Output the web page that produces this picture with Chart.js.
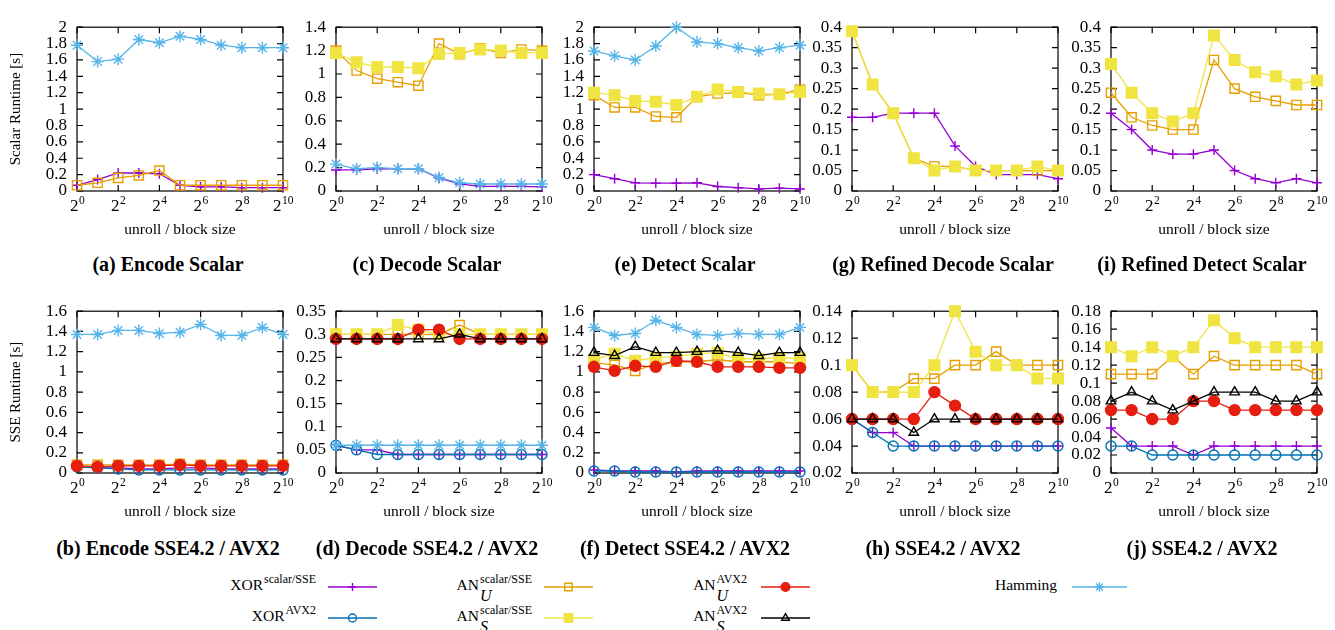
<!DOCTYPE html>
<html>
<head>
<meta charset="utf-8">
<script src="https://cdn.jsdelivr.net/npm/chart.js"></script>
<style>
  html, body { margin: 0; padding: 0; background: #fff; }
  #wrap { position: relative; width: 1335px; height: 630px; overflow: hidden; font-family: "Liberation Serif", "DejaVu Serif", serif; color: #000; }
  #wrap canvas { position: absolute; }
  .cap { position: absolute; font-weight: bold; font-size: 20px; line-height: 22px; white-space: nowrap; transform: translateX(-50%); }
  .lg { position: absolute; font-size: 15.5px; line-height: 40px; white-space: nowrap; }
  .up { font-size: 12px; line-height: 1; vertical-align: 7px; margin-left: 1px; }
  .st { display: inline-block; position: relative; line-height: 1; vertical-align: 7px; margin-left: 1px; }
  .st .sp { display: block; font-size: 12px; }
  .st .sb { position: absolute; left: 0; top: 15px; font-size: 16px; font-style: italic; }
</style>
</head>
<body>
<div id="wrap">
  <div class="lg" style="right:1019px; top:565px">XOR<span class="up">scalar/SSE</span></div>
  <div class="lg" style="right:1019px; top:596px">XOR<span class="up">AVX2</span></div>
  <div class="lg" style="right:803px; top:565px">AN<span class="st"><span class="sp">scalar/SSE</span><span class="sb">U</span></span></div>
  <div class="lg" style="right:803px; top:596px">AN<span class="st"><span class="sp">scalar/SSE</span><span class="sb">S</span></span></div>
  <div class="lg" style="right:588px; top:565px">AN<span class="st"><span class="sp">AVX2</span><span class="sb">U</span></span></div>
  <div class="lg" style="right:588px; top:596px">AN<span class="st"><span class="sp">AVX2</span><span class="sb">S</span></span></div>
  <div class="lg" style="right:278px; top:565px">Hamming</div>
</div>
<script>
// x positions are exponents: 2^0 .. 2^10
const exps = [0, 1, 2, 3, 4, 5, 6, 7, 8, 9, 10];

// (a) Encode Scalar
const encScalarXor = [0.07, 0.14, 0.22, 0.22, 0.21, 0.07, 0.05, 0.05, 0.04, 0.04, 0.04];
const encScalarAnU = [0.07, 0.10, 0.16, 0.19, 0.25, 0.07, 0.07, 0.07, 0.07, 0.07, 0.07];
const encScalarHam = [1.78, 1.58, 1.61, 1.85, 1.81, 1.89, 1.85, 1.78, 1.75, 1.75, 1.75];

// (c) Decode Scalar
const decScalarXor = [0.18, 0.18, 0.19, 0.19, 0.19, 0.11, 0.06, 0.04, 0.04, 0.04, 0.035];
const decScalarAnU = [1.2, 1.03, 0.96, 0.93, 0.9, 1.26, 1.17, 1.22, 1.18, 1.21, 1.2];
const decScalarAnS = [1.18, 1.1, 1.06, 1.06, 1.05, 1.17, 1.18, 1.21, 1.2, 1.18, 1.18];
const decScalarHam = [0.23, 0.19, 0.2, 0.19, 0.19, 0.115, 0.07, 0.06, 0.06, 0.06, 0.06];

// (e) Detect Scalar
const detScalarXor = [0.2, 0.15, 0.1, 0.095, 0.095, 0.1, 0.055, 0.04, 0.025, 0.035, 0.025];
const detScalarAnU = [1.17, 1.02, 1.02, 0.91, 0.9, 1.15, 1.19, 1.2, 1.17, 1.18, 1.24];
const detScalarAnS = [1.2, 1.17, 1.1, 1.09, 1.05, 1.15, 1.24, 1.21, 1.19, 1.18, 1.21];
const detScalarHam = [1.71, 1.65, 1.6, 1.77, 2.0, 1.82, 1.8, 1.75, 1.71, 1.75, 1.78];

// (g) Refined Decode Scalar
const refDecScalarXor = [0.18, 0.18, 0.19, 0.19, 0.19, 0.11, 0.06, 0.04, 0.04, 0.04, 0.03];
const refDecScalarAnU = [0.39, 0.26, 0.19, 0.08, 0.06, 0.06, 0.05, 0.05, 0.05, 0.05, 0.05];
const refDecScalarAnS = [0.39, 0.26, 0.19, 0.08, 0.05, 0.06, 0.05, 0.05, 0.05, 0.06, 0.05];

// (i) Refined Detect Scalar
const refDetScalarXor = [0.19, 0.15, 0.1, 0.09, 0.09, 0.1, 0.05, 0.03, 0.02, 0.03, 0.02];
const refDetScalarAnU = [0.24, 0.18, 0.16, 0.15, 0.15, 0.32, 0.25, 0.23, 0.22, 0.21, 0.21];
const refDetScalarAnS = [0.31, 0.24, 0.19, 0.17, 0.19, 0.38, 0.32, 0.29, 0.28, 0.26, 0.27];

// (b) Encode SSE4.2 / AVX2
const encSimdXor = [0.06, 0.05, 0.05, 0.04, 0.04, 0.05, 0.05, 0.04, 0.04, 0.04, 0.04];
const encSimdXorAvx = [0.06, 0.05, 0.04, 0.03, 0.03, 0.03, 0.03, 0.03, 0.03, 0.03, 0.03];
const encSimdAnU = [0.08, 0.08, 0.08, 0.08, 0.08, 0.09, 0.08, 0.08, 0.08, 0.08, 0.08];
const encSimdAnUAvx = [0.07, 0.06, 0.07, 0.07, 0.07, 0.08, 0.07, 0.07, 0.07, 0.07, 0.07];
const encSimdHam = [1.37, 1.37, 1.41, 1.41, 1.38, 1.39, 1.47, 1.36, 1.36, 1.44, 1.37];

// (d) Decode SSE4.2 / AVX2
const decSimdXor = [0.06, 0.05, 0.05, 0.04, 0.04, 0.04, 0.04, 0.04, 0.04, 0.04, 0.04];
const decSimdXorAvx = [0.06, 0.05, 0.04, 0.04, 0.04, 0.04, 0.04, 0.04, 0.04, 0.04, 0.04];
const decSimdAnU = [0.3, 0.3, 0.3, 0.3, 0.3, 0.3, 0.32, 0.3, 0.3, 0.3, 0.3];
const decSimdAnS = [0.3, 0.3, 0.3, 0.32, 0.31, 0.3, 0.3, 0.3, 0.3, 0.3, 0.3];
const decSimdAnUAvx = [0.29, 0.29, 0.29, 0.29, 0.31, 0.31, 0.29, 0.29, 0.29, 0.29, 0.29];
const decSimdAnSAvx = [0.29, 0.29, 0.29, 0.29, 0.29, 0.29, 0.3, 0.29, 0.29, 0.29, 0.29];
const decSimdHam = [0.06, 0.06, 0.06, 0.06, 0.06, 0.06, 0.06, 0.06, 0.06, 0.06, 0.06];

// (f) Detect SSE4.2 / AVX2
const detSimdXor = [0.03, 0.02, 0.02, 0.02, 0.01, 0.02, 0.02, 0.02, 0.02, 0.02, 0.02];
const detSimdXorAvx = [0.02, 0.02, 0.01, 0.01, 0.01, 0.01, 0.01, 0.01, 0.01, 0.01, 0.01];
const detSimdAnU = [1.09, 1.07, 1.01, 1.08, 1.1, 1.1, 1.12, 1.1, 1.1, 1.1, 1.08];
const detSimdAnS = [1.12, 1.18, 1.11, 1.14, 1.15, 1.18, 1.19, 1.13, 1.13, 1.14, 1.13];
const detSimdAnUAvx = [1.05, 1.01, 1.06, 1.05, 1.11, 1.1, 1.05, 1.05, 1.05, 1.04, 1.04];
const detSimdAnSAvx = [1.19, 1.16, 1.25, 1.19, 1.19, 1.2, 1.21, 1.19, 1.16, 1.19, 1.19];
const detSimdHam = [1.44, 1.36, 1.38, 1.51, 1.44, 1.37, 1.36, 1.38, 1.37, 1.37, 1.44];

// (h) Refined Decode SSE4.2 / AVX2
const refDecSimdXor = [0.06, 0.05, 0.05, 0.04, 0.04, 0.04, 0.04, 0.04, 0.04, 0.04, 0.04];
const refDecSimdXorAvx = [0.06, 0.05, 0.04, 0.04, 0.04, 0.04, 0.04, 0.04, 0.04, 0.04, 0.04];
const refDecSimdAnU = [0.1, 0.08, 0.08, 0.09, 0.09, 0.1, 0.1, 0.11, 0.1, 0.1, 0.1];
const refDecSimdAnS = [0.1, 0.08, 0.08, 0.08, 0.1, 0.14, 0.11, 0.1, 0.1, 0.09, 0.09];
const refDecSimdAnUAvx = [0.06, 0.06, 0.06, 0.06, 0.08, 0.07, 0.06, 0.06, 0.06, 0.06, 0.06];
const refDecSimdAnSAvx = [0.06, 0.06, 0.06, 0.05, 0.06, 0.06, 0.06, 0.06, 0.06, 0.06, 0.06];

// (j) Refined Detect SSE4.2 / AVX2
const refDetSimdXor = [0.05, 0.03, 0.03, 0.03, 0.02, 0.03, 0.03, 0.03, 0.03, 0.03, 0.03];
const refDetSimdXorAvx = [0.03, 0.03, 0.02, 0.02, 0.02, 0.02, 0.02, 0.02, 0.02, 0.02, 0.02];
const refDetSimdAnU = [0.11, 0.11, 0.11, 0.13, 0.11, 0.13, 0.12, 0.12, 0.12, 0.12, 0.11];
const refDetSimdAnS = [0.14, 0.13, 0.14, 0.13, 0.14, 0.17, 0.15, 0.14, 0.14, 0.14, 0.14];
const refDetSimdAnUAvx = [0.07, 0.07, 0.06, 0.06, 0.08, 0.08, 0.07, 0.07, 0.07, 0.07, 0.07];
const refDetSimdAnSAvx = [0.08, 0.09, 0.08, 0.07, 0.08, 0.09, 0.09, 0.09, 0.08, 0.08, 0.09];

const FONT = '"Liberation Serif", "DejaVu Serif", serif';

// series look, gnuplot-like
const STYLE = {
    xorS: { color: '#9400d3', pointStyle: 'cross', radius: 5, fill: false },
    xorA: { color: '#0072b2', pointStyle: 'circle', radius: 5, fill: false },
    anUS: { color: '#e69f00', pointStyle: 'rect', radius: 6.5, fill: false },
    anSS: { color: '#f0e442', pointStyle: 'rect', radius: 7.5, fill: true },
    anUA: { color: '#e51e10', pointStyle: 'circle', radius: 5.5, fill: true },
    anSA: { color: '#000000', pointStyle: 'triangle', radius: 5.5, fill: false },
    ham:  { color: '#56b4e9', pointStyle: 'star', radius: 6, fill: false }
};
const ORDER = ['xorS', 'xorA', 'anUS', 'anSS', 'anUA', 'anSA', 'ham'];

const COL_LEFT = [77, 336, 594, 852, 1111];
const PLOT_W = 206;
const ROWS = [{ top: 17, h: 174 }, { top: 301, h: 172 }];

const panels = [
    { col: 0, row: 0, cap: '(a) Encode Scalar', yTitle: 'Scalar Runtime [s]', y: [0, 2, 0.2],
      series: { xorS: encScalarXor, anUS: encScalarAnU, ham: encScalarHam } },
    { col: 1, row: 0, cap: '(c) Decode Scalar', y: [0, 1.4, 0.2],
      series: { xorS: decScalarXor, anUS: decScalarAnU, anSS: decScalarAnS, ham: decScalarHam } },
    { col: 2, row: 0, cap: '(e) Detect Scalar', y: [0, 2, 0.2],
      series: { xorS: detScalarXor, anUS: detScalarAnU, anSS: detScalarAnS, ham: detScalarHam } },
    { col: 3, row: 0, cap: '(g) Refined Decode Scalar', y: [0, 0.4, 0.05],
      series: { xorS: refDecScalarXor, anUS: refDecScalarAnU, anSS: refDecScalarAnS } },
    { col: 4, row: 0, cap: '(i) Refined Detect Scalar', y: [0, 0.4, 0.05],
      series: { xorS: refDetScalarXor, anUS: refDetScalarAnU, anSS: refDetScalarAnS } },
    { col: 0, row: 1, cap: '(b) Encode SSE4.2 / AVX2', yTitle: 'SSE Runtime [s]', y: [0, 1.6, 0.2],
      series: { xorS: encSimdXor, xorA: encSimdXorAvx, anUS: encSimdAnU, anUA: encSimdAnUAvx, ham: encSimdHam } },
    { col: 1, row: 1, cap: '(d) Decode SSE4.2 / AVX2', y: [0, 0.35, 0.05],
      series: { xorS: decSimdXor, xorA: decSimdXorAvx, anUS: decSimdAnU, anSS: decSimdAnS, anUA: decSimdAnUAvx, anSA: decSimdAnSAvx, ham: decSimdHam } },
    { col: 2, row: 1, cap: '(f) Detect SSE4.2 / AVX2', y: [0, 1.6, 0.2],
      series: { xorS: detSimdXor, xorA: detSimdXorAvx, anUS: detSimdAnU, anSS: detSimdAnS, anUA: detSimdAnUAvx, anSA: detSimdAnSAvx, ham: detSimdHam } },
    { col: 3, row: 1, cap: '(h) SSE4.2 / AVX2', y: [0.02, 0.14, 0.02],
      series: { xorS: refDecSimdXor, xorA: refDecSimdXorAvx, anUS: refDecSimdAnU, anSS: refDecSimdAnS, anUA: refDecSimdAnUAvx, anSA: refDecSimdAnSAvx } },
    { col: 4, row: 1, cap: '(j) SSE4.2 / AVX2', y: [0, 0.18, 0.02],
      series: { xorS: refDetSimdXor, xorA: refDetSimdXorAvx, anUS: refDetSimdAnU, anSS: refDetSimdAnS, anUA: refDetSimdAnUAvx, anSA: refDetSimdAnSAvx } }
];

const fmt = (v) => String(parseFloat(Number(v).toFixed(4)));

// frame with inward ticks on all four sides, 2^n tick labels
const framePlugin = {
    id: 'frame',
    beforeDatasetsDraw(chart) {
        const { ctx, chartArea: a, scales: { x, y } } = chart;
        ctx.save();
        ctx.strokeStyle = '#000';
        ctx.lineWidth = 1.2;
        ctx.strokeRect(a.left, a.top, a.width, a.height);
        ctx.beginPath();
        y.ticks.forEach((t) => {
            const py = y.getPixelForValue(t.value);
            ctx.moveTo(a.left, py); ctx.lineTo(a.left + 6, py);
            ctx.moveTo(a.right, py); ctx.lineTo(a.right - 6, py);
        });
        exps.filter((e) => e % 2 === 0).forEach((e) => {
            const px = x.getPixelForValue(e);
            ctx.moveTo(px, a.bottom); ctx.lineTo(px, a.bottom - 6);
            ctx.moveTo(px, a.top); ctx.lineTo(px, a.top + 6);
        });
        ctx.stroke();
        ctx.fillStyle = '#000';
        ctx.textAlign = 'left';
        ctx.textBaseline = 'alphabetic';
        const baseY = a.bottom + 20;
        exps.filter((e) => e % 2 === 0).forEach((e) => {
            const px = x.getPixelForValue(e);
            ctx.font = `17px ${FONT}`;
            const bw = ctx.measureText('2').width;
            ctx.font = `11.5px ${FONT}`;
            const ew = ctx.measureText(String(e)).width;
            const start = px - (bw + ew) / 2;
            ctx.font = `17px ${FONT}`;
            ctx.fillText('2', start, baseY);
            ctx.font = `11.5px ${FONT}`;
            ctx.fillText(String(e), start + bw + 0.5, baseY - 7.5);
        });
        ctx.restore();
    }
};

const wrap = document.getElementById('wrap');

panels.forEach((p) => {
    const yW = p.col === 0 ? 77 : 56;
    const padTop = 10, padRight = 16, xH = 48;
    const r = ROWS[p.row];
    const left = COL_LEFT[p.col] - yW;
    const width = yW + PLOT_W + padRight;
    const height = padTop + r.h + xH;
    const cv = document.createElement('canvas');
    cv.width = width; cv.height = height;
    cv.style.left = left + 'px';
    cv.style.top = (r.top - padTop) + 'px';
    cv.style.width = width + 'px';
    cv.style.height = height + 'px';
    wrap.appendChild(cv);

    const cap = document.createElement('div');
    cap.className = 'cap';
    cap.textContent = p.cap;
    cap.style.left = (COL_LEFT[p.col] + PLOT_W / 2 - 12) + 'px';
    cap.style.top = (p.row === 0 ? 253 : 537) + 'px';
    wrap.appendChild(cap);

    const datasets = Object.keys(p.series).map((key) => {
        const s = STYLE[key];
        return {
            label: key,
            data: exps.map((e, i) => ({ x: e, y: p.series[key][i] })),
            borderColor: s.color,
            backgroundColor: s.color,
            borderWidth: 1.3,
            pointStyle: s.pointStyle,
            pointRadius: s.radius,
            pointBorderWidth: 1.4,
            pointBorderColor: s.color,
            pointBackgroundColor: s.fill ? s.color : 'rgba(0,0,0,0)',
            tension: 0,
            clip: false,
            order: -ORDER.indexOf(key)
        };
    });

    new Chart(cv, {
        type: 'line',
        data: { datasets },
        options: {
            responsive: false,
            animation: false,
            events: [],
            layout: { padding: { left: 0, right: padRight, top: padTop, bottom: 0 } },
            plugins: { legend: { display: false }, tooltip: { enabled: false } },
            scales: {
                x: {
                    type: 'linear', min: 0, max: 10,
                    grid: { display: false, drawTicks: false },
                    border: { display: false },
                    ticks: { display: false },
                    title: { display: true, text: 'unroll / block size', color: '#000',
                             font: { family: FONT, size: 15.5 }, padding: { top: 0, bottom: 0 } },
                    afterFit: (s) => { s.height = xH; }
                },
                y: {
                    min: p.y[0], max: p.y[1],
                    grid: { display: false, drawTicks: false },
                    border: { display: false },
                    ticks: { stepSize: p.y[2], autoSkip: false, color: '#000', padding: 10,
                             font: { family: FONT, size: 17 }, callback: (v) => fmt(v) },
                    title: { display: !!p.yTitle, text: p.yTitle || '', color: '#000',
                             font: { family: FONT, size: 15 }, padding: { top: 7, bottom: 0 } },
                    afterFit: (s) => { s.width = yW; }
                }
            }
        },
        plugins: [framePlugin]
    });
});

// legend samples (line + marker) next to the HTML labels
const legendSamples = [
    { key: 'xorS', x0: 328, x1: 377, y: 587 },
    { key: 'xorA', x0: 328, x1: 377, y: 618 },
    { key: 'anUS', x0: 544, x1: 593, y: 587 },
    { key: 'anSS', x0: 544, x1: 593, y: 618 },
    { key: 'anUA', x0: 761, x1: 810, y: 587 },
    { key: 'anSA', x0: 761, x1: 810, y: 618 },
    { key: 'ham', x0: 1072, x1: 1127, y: 587 }
];
const lc = document.createElement('canvas');
lc.width = 1335; lc.height = 630;
lc.style.left = '0px'; lc.style.top = '0px';
wrap.appendChild(lc);
const lctx = lc.getContext('2d');
legendSamples.forEach((l) => {
    const s = STYLE[l.key];
    lctx.save();
    lctx.strokeStyle = s.color;
    lctx.lineWidth = 1.3;
    lctx.beginPath();
    lctx.moveTo(l.x0, l.y); lctx.lineTo(l.x1, l.y);
    lctx.stroke();
    lctx.fillStyle = s.fill ? s.color : 'rgba(0,0,0,0)';
    lctx.lineWidth = 1.4;
    Chart.helpers.drawPoint(lctx, { pointStyle: s.pointStyle, radius: s.radius * 0.8, borderWidth: 1.4, rotation: 0 },
        (l.x0 + l.x1) / 2, l.y);
    lctx.restore();
});
</script>
</body>
</html>
